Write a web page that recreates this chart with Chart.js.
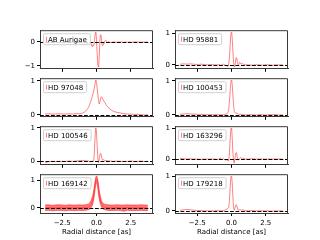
<!DOCTYPE html>
<html>
<head>
<meta charset="utf-8">
<script src="https://cdn.jsdelivr.net/npm/chart.js@4.4.1/dist/chart.umd.min.js"></script>
<style>
  body { margin: 0; background: #fff; }
  #fig { position: relative; width: 320px; height: 240px; overflow: hidden; }
  #fig canvas { position: absolute; }
</style>
</head>
<body>
<div id="fig"></div>
<script>
// radial distance samples [as], denser near the centre
const radius = [
  -3.75, -3.5, -3.25, -3.0, -2.75, -2.5, -2.25, -2.0, -1.75, -1.5, -1.25,
  -1.0, -0.9, -0.8, -0.7, -0.6, -0.5, -0.4, -0.3,
  -0.25, -0.2, -0.15, -0.1, -0.05, 0, 0.05, 0.1, 0.15, 0.2, 0.25, 0.3, 0.35, 0.4, 0.45, 0.5,
  0.6, 0.7, 0.8, 0.9, 1.0,
  1.25, 1.5, 1.75, 2.0, 2.25, 2.5, 2.75, 3.0, 3.25, 3.5, 3.75
];

const abAurigae = [
  -0.02, -0.03, -0.02, -0.03, -0.02, -0.03, -0.02, -0.03, -0.02, -0.03, -0.02,
  -0.03, -0.06, -0.02, -0.09, -0.04, -0.1, -0.05, -0.2,
  -0.12, -0.15, 0.05, 0.3, 0.42, 0.1, -0.5, -0.95, -1.05, -0.6, 0.1, 0.31, 0.2, -0.05, -0.15, -0.12,
  0.04, 0.06, -0.02, 0.01, -0.02,
  0.0, -0.01, 0.0, -0.01, 0.0, -0.01, 0.0, 0.0, -0.01, 0.0, 0.0
];
const hd95881 = [
  0.02, 0.03, 0.02, 0.03, 0.02, 0.01, 0.02, 0.01, 0.0, 0.01, 0.0,
  0.0, 0.01, -0.01, 0.0, 0.02, 0.0, -0.02, -0.05,
  -0.03, 0.05, 0.25, 0.62, 0.95, 1.04, 0.85, 0.45, 0.08, -0.07, -0.02, 0.12, 0.23, 0.18, 0.04, 0.0,
  0.08, 0.02, 0.04, 0.01, 0.0,
  0.0, -0.01, 0.0, 0.0, -0.01, 0.0, 0.0, -0.01, 0.0, 0.0, 0.0
];
const hd97048 = [
  0.02, 0.03, 0.02, 0.02, 0.03, 0.02, 0.02, 0.03, 0.02, 0.03, 0.03,
  0.05, 0.07, 0.1, 0.15, 0.21, 0.3, 0.42, 0.55,
  0.63, 0.72, 0.82, 0.93, 1.03, 0.95, 0.78, 0.6, 0.42, 0.32, 0.38, 0.48, 0.53, 0.52, 0.47, 0.43,
  0.37, 0.3, 0.24, 0.2, 0.16,
  0.1, 0.07, 0.05, 0.03, 0.02, 0.02, 0.01, 0.01, 0.0, -0.01, 0.0
];
const hd100453 = [
  0.01, 0.02, 0.03, 0.02, 0.02, 0.01, 0.01, 0.0, 0.0, 0.0, 0.0,
  0.0, 0.0, 0.0, 0.0, 0.0, 0.01, 0.02, 0.04,
  0.08, 0.18, 0.4, 0.7, 0.95, 1.03, 0.9, 0.6, 0.3, 0.12, 0.06, 0.05, 0.05, 0.04, 0.03, 0.02,
  0.01, 0.01, 0.0, 0.0, -0.01,
  0.0, 0.0, -0.01, 0.0, 0.0, -0.01, 0.0, 0.0, 0.0, -0.01, 0.0
];
const hd100546 = [
  -0.05, -0.01, 0.0, 0.0, 0.0, 0.0, 0.0, 0.01, 0.0, 0.01, 0.02,
  0.03, 0.02, 0.03, 0.01, 0.02, -0.02, 0.0, 0.01,
  0.0, 0.05, 0.3, 0.75, 1.0, 0.85, 0.45, 0.08, -0.04, 0.08, 0.2, 0.24, 0.18, 0.08, 0.04, 0.05,
  0.03, 0.02, 0.02, 0.01, 0.01,
  0.0, 0.01, 0.0, 0.0, 0.0, 0.01, 0.0, 0.0, 0.01, 0.0, 0.0
];
const hd163296 = [
  0.02, 0.01, 0.0, 0.01, 0.0, 0.0, -0.01, 0.0, 0.0, 0.0, 0.0,
  -0.01, 0.02, 0.03, -0.02, 0.01, -0.02, -0.03, -0.02,
  -0.07, -0.03, 0.2, 0.62, 0.95, 1.01, 0.7, 0.25, -0.05, -0.13, 0.02, 0.17, 0.21, 0.12, 0.0, -0.03,
  0.02, 0.05, 0.0, 0.02, 0.0,
  0.0, 0.01, 0.0, 0.0, 0.0, 0.0, 0.0, 0.0, 0.0, 0.0, 0.0
];
const hd169142 = [
  0.0, 0.01, 0.0, 0.0, 0.01, 0.0, 0.0, 0.01, 0.0, 0.0, 0.01,
  0.0, 0.01, 0.01, 0.02, 0.03, 0.06, 0.12, 0.25,
  0.35, 0.48, 0.65, 0.85, 1.0, 1.06, 1.0, 0.86, 0.66, 0.48, 0.35, 0.25, 0.17, 0.12, 0.08, 0.06,
  0.03, 0.02, 0.01, 0.01, 0.0,
  0.0, 0.01, 0.0, 0.0, 0.01, 0.0, 0.0, 0.0, 0.01, 0.0, 0.0
];
// noisy spread around the HD 169142 profile
const hd169142Upper = [
  0.1, 0.11, 0.09, 0.1, 0.11, 0.1, 0.09, 0.11, 0.1, 0.1, 0.11,
  0.1, 0.11, 0.11, 0.12, 0.14, 0.18, 0.26, 0.4,
  0.5, 0.64, 0.8, 0.98, 1.12, 1.165, 1.12, 1.0, 0.82, 0.64, 0.5, 0.38, 0.28, 0.22, 0.18, 0.16,
  0.13, 0.12, 0.11, 0.11, 0.1,
  0.1, 0.11, 0.1, 0.1, 0.11, 0.1, 0.1, 0.1, 0.11, 0.1, 0.1
];
const hd169142Lower = [
  -0.1, -0.09, -0.11, -0.1, -0.09, -0.1, -0.11, -0.09, -0.1, -0.1, -0.09,
  -0.1, -0.09, -0.09, -0.08, -0.07, -0.05, 0.0, 0.1,
  0.2, 0.32, 0.5, 0.7, 0.86, 0.94, 0.86, 0.72, 0.5, 0.32, 0.2, 0.12, 0.05, 0.0, -0.03, -0.05,
  -0.07, -0.08, -0.09, -0.1, -0.1,
  -0.1, -0.09, -0.1, -0.125, -0.09, -0.1, -0.1, -0.1, -0.09, -0.1, -0.1
];
const hd179218 = [
  0.02, 0.03, 0.04, 0.03, 0.02, 0.01, 0.01, 0.0, 0.0, 0.0, 0.0,
  0.01, 0.0, 0.01, 0.0, 0.01, 0.02, 0.04, 0.06,
  0.08, 0.12, 0.3, 0.65, 0.95, 1.01, 0.82, 0.45, 0.12, 0.02, 0.08, 0.15, 0.18, 0.12, 0.05, 0.02,
  0.04, 0.02, 0.03, 0.02, 0.01,
  0.0, 0.01, 0.0, 0.0, 0.0, 0.0, 0.0, -0.01, 0.0, 0.0, 0.0
];

const starNames = ['AB Aurigae', 'HD 95881', 'HD 97048', 'HD 100453',
                   'HD 100546', 'HD 163296', 'HD 169142', 'HD 179218'];
const profiles = [abAurigae, hd95881, hd97048, hd100453, hd100546, hd163296, hd169142, hd179218];
const yTickSets = [[-1, 0], [0, 1], [0, 1], [0, 1], [0, 1], [0, 1], [0, 1], [0, 1]];
const xTicks = [-2.5, 0, 2.5];
const xTitle = 'Radial distance [as]';

const lineColor = 'rgba(255, 0, 0, 0.5)';
const bandColor = 'rgba(255, 40, 40, 0.62)';
const spineColor = '#3a3a3a';
const font = { family: 'DejaVu Sans', size: 7 };

// axes boxes (px) like a 2x4 subplot grid
const colLeft = [40, 175];
const rowTop = [29, 77, 125, 173];
const axW = 113, axH = 40;

const pts = arr => radius.map((r, i) => ({ x: r, y: arr[i] }));
const minus = s => String(s).replace('-', '\u2212');

const framePlugin = {
  id: 'frame',
  afterDatasetsDraw(chart) {
    const { ctx, chartArea: a, scales } = chart;
    const y0 = Math.round(scales.y.getPixelForValue(0)) + 0.5;
    ctx.save();
    // zero line
    ctx.strokeStyle = '#000';
    ctx.lineWidth = 1;
    ctx.setLineDash([3.8, 1.7]);
    ctx.beginPath();
    ctx.moveTo(a.left, y0);
    ctx.lineTo(a.right, y0);
    ctx.stroke();
    ctx.setLineDash([]);

    // legend box
    const label = chart.options.plugins.frame.label;
    ctx.font = '7px "DejaVu Sans"';
    const tw = ctx.measureText(label).width;
    const bx = a.left + 3.5, by = a.top + 3.5, bw = tw + 8, bh = 11;
    ctx.fillStyle = 'rgba(255,255,255,0.8)';
    ctx.strokeStyle = '#d0d0d0';
    ctx.beginPath();
    ctx.roundRect(bx, by, bw, bh, 1.5);
    ctx.fill();
    ctx.stroke();
    ctx.fillStyle = lineColor;
    ctx.fillRect(Math.round(bx + 2), by + 3, 1, 5);
    ctx.fillStyle = '#000';
    ctx.textBaseline = 'middle';
    ctx.fillText(label, bx + 4.5, by + bh / 2 + 0.5);

    // top and right spines
    ctx.strokeStyle = spineColor;
    ctx.beginPath();
    ctx.moveTo(a.left, a.top + 0.5);
    ctx.lineTo(a.right - 0.5, a.top + 0.5);
    ctx.lineTo(a.right - 0.5, a.bottom);
    ctx.stroke();
    ctx.restore();
  }
};

const fig = document.getElementById('fig');
const xMin = radius[0] - 0.05 * (radius[radius.length - 1] - radius[0]);
const xMax = radius[radius.length - 1] + 0.05 * (radius[radius.length - 1] - radius[0]);

starNames.forEach((name, i) => {
  const row = Math.floor(i / 2), col = i % 2;
  const bottomRow = row === 3;
  const padL = 34, padT = 5, padR = 4, padB = bottomRow ? 24 : 6;

  const canvas = document.createElement('canvas');
  canvas.width = axW + padL + padR;
  canvas.height = axH + padT + padB;
  canvas.style.left = (colLeft[col] - padL) + 'px';
  canvas.style.top = (rowTop[row] - padT) + 'px';
  fig.appendChild(canvas);

  const values = profiles[i];
  const datasets = [];
  let all = values;
  if (name === 'HD 169142') {
    all = values.concat(hd169142Upper, hd169142Lower);
    datasets.push({ data: pts(hd169142Lower), borderColor: bandColor, borderWidth: 1,
                    pointRadius: 0, cubicInterpolationMode: 'monotone', fill: false });
    datasets.push({ data: pts(hd169142Upper), borderColor: bandColor, borderWidth: 1,
                    backgroundColor: bandColor, pointRadius: 0,
                    cubicInterpolationMode: 'monotone', fill: '-1' });
  }
  datasets.push({ label: name, data: pts(values), borderColor: lineColor, borderWidth: 1,
                  pointRadius: 0, cubicInterpolationMode: 'monotone', fill: false });

  const yLo = Math.min(...all), yHi = Math.max(...all);
  const yPad = 0.05 * (yHi - yLo);

  new Chart(canvas, {
    type: 'line',
    data: { datasets },
    options: {
      responsive: false,
      animation: false,
      devicePixelRatio: 1,
      layout: { padding: { top: padT, right: padR, left: 0, bottom: 0 }, autoPadding: false },
      plugins: {
        legend: { display: false },
        tooltip: { enabled: false },
        frame: { label: name }
      },
      scales: {
        x: {
          type: 'linear',
          min: xMin,
          max: xMax,
          afterBuildTicks: s => { s.ticks = xTicks.map(v => ({ value: v })); },
          afterFit: s => { s.height = padB; },
          ticks: { display: bottomRow, font, color: '#000', padding: 3, maxRotation: 0,
                   callback: v => minus(v.toFixed(1)) },
          grid: { drawOnChartArea: false, tickLength: 3, color: '#000' },
          border: { color: spineColor, width: 1 },
          title: { display: bottomRow, text: xTitle, font, color: '#000',
                   padding: { top: 0, bottom: 1 } }
        },
        y: {
          type: 'linear',
          min: yLo - yPad,
          max: yHi + yPad,
          afterBuildTicks: s => { s.ticks = yTickSets[i].map(v => ({ value: v })); },
          afterFit: s => { s.width = padL; },
          ticks: { font, color: '#000', padding: 2, callback: v => minus(v) },
          grid: { drawOnChartArea: false, tickLength: 3, color: '#000' },
          border: { color: spineColor, width: 1 }
        }
      }
    },
    plugins: [framePlugin]
  });
});
</script>
</body>
</html>
